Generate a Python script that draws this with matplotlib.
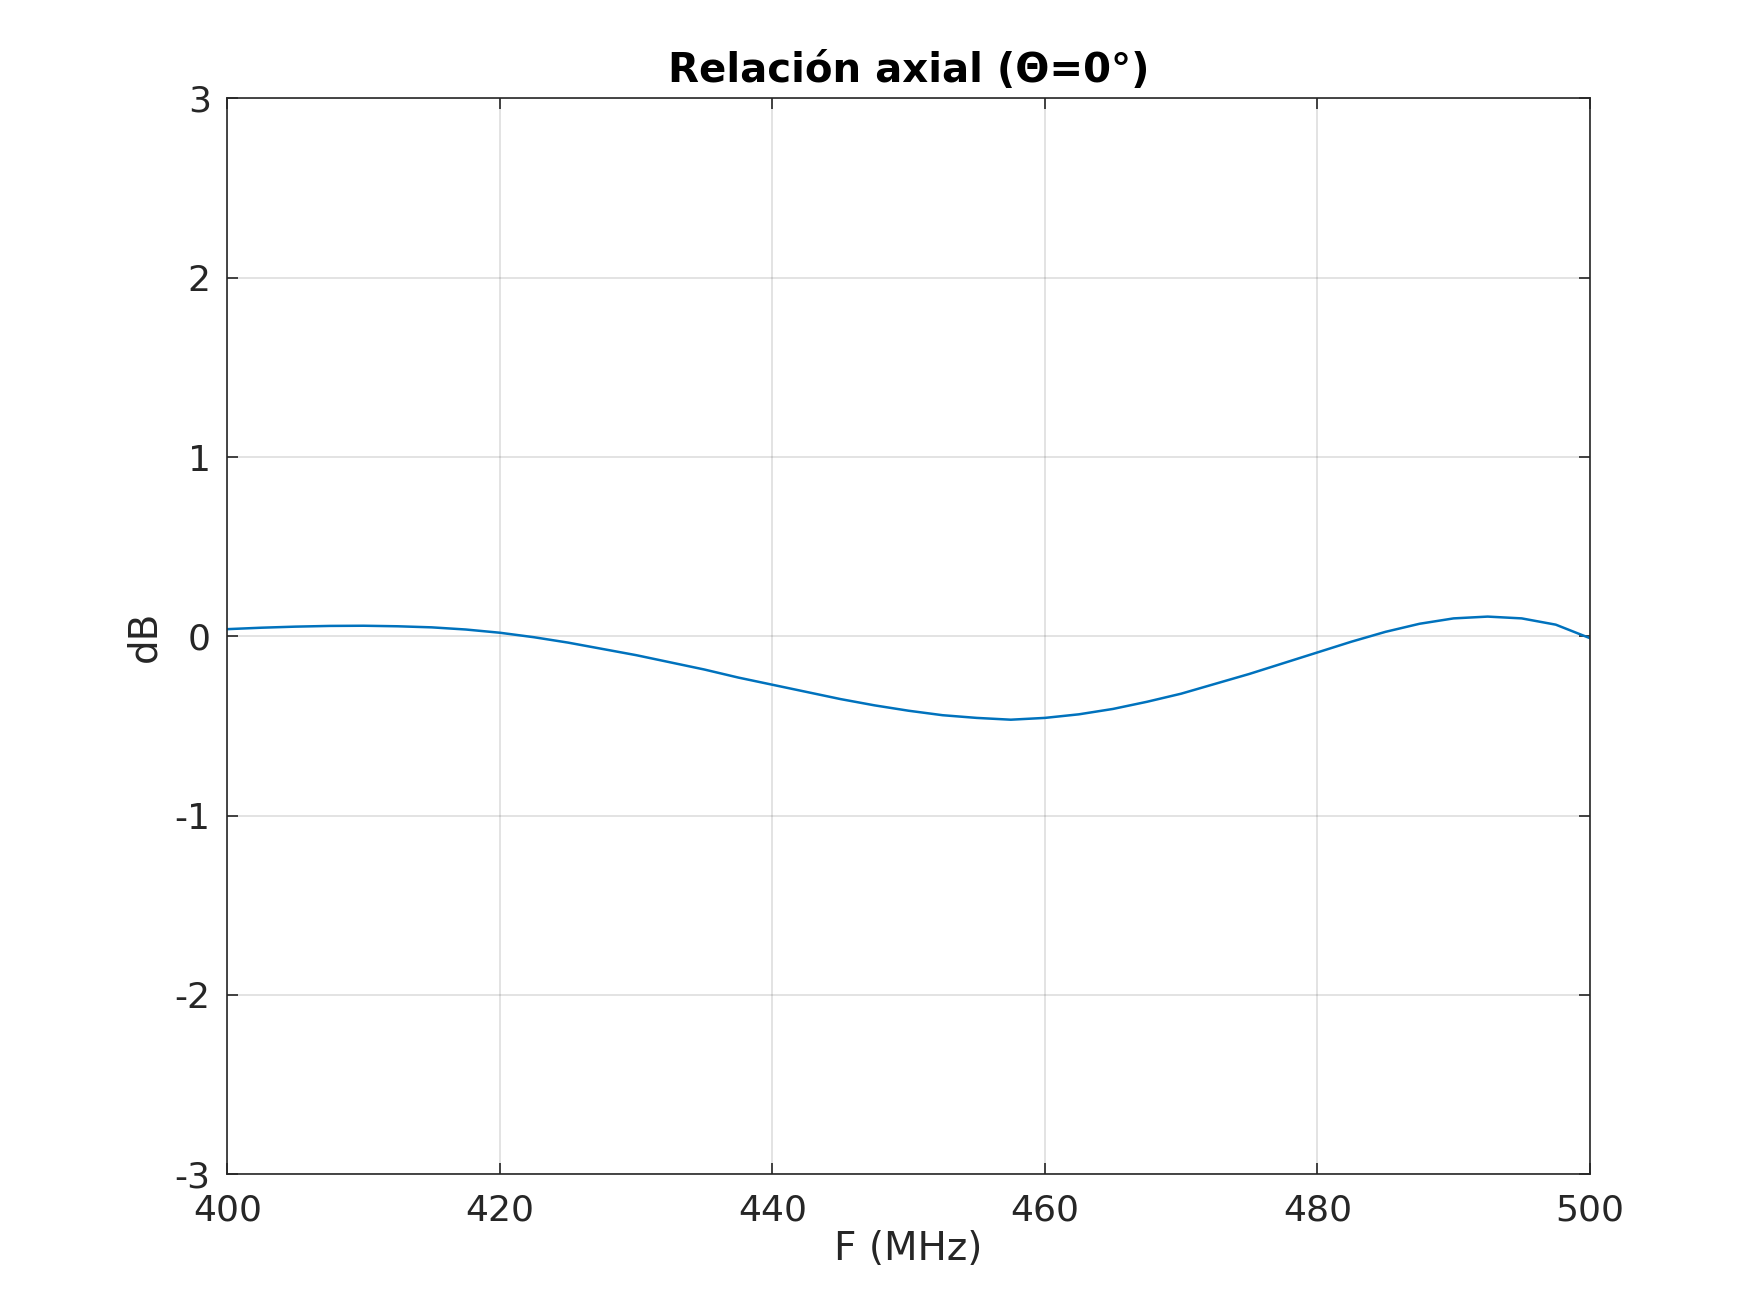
import matplotlib
matplotlib.use('Agg')
import matplotlib.pyplot as plt

# frequency (MHz) and axial ratio (dB)
freq = [400, 402.5, 405, 407.5, 410, 412.5, 415, 417.5, 420, 422.5, 425, 427.5,
        430, 432.5, 435, 437.5, 440, 442.5, 445, 447.5, 450, 452.5, 455, 457.5,
        460, 462.5, 465, 467.5, 470, 472.5, 475, 477.5, 480, 482.5, 485, 487.5,
        490, 492.5, 495, 497.5, 500]
ar_db = [0.04, 0.048, 0.054, 0.058, 0.059, 0.056, 0.05, 0.038, 0.02, -0.005,
         -0.035, -0.07, -0.105, -0.145, -0.185, -0.23, -0.27, -0.31, -0.35,
         -0.385, -0.415, -0.44, -0.455, -0.465, -0.455, -0.435, -0.405, -0.365,
         -0.32, -0.265, -0.21, -0.15, -0.09, -0.03, 0.025, 0.07, 0.1, 0.11,
         0.1, 0.065, -0.01]

txt = '#262626'
fig = plt.figure(figsize=(8.745, 6.56), dpi=200)
ax = fig.add_axes([0.13, 0.105, 0.779, 0.82])
ax.plot(freq, ar_db, color='#0072BD', linewidth=0.9)
ax.set_xlim(400, 500)
ax.set_ylim(-3, 3)
ax.set_xticks(range(400, 501, 20))
ax.set_yticks(range(-3, 4))
ax.set_yticklabels([str(v) for v in range(-3, 4)])
ax.grid(True, color='#262626', alpha=0.15, linewidth=0.6)
ax.tick_params(direction='in', top=True, right=True, labelsize=13,
               colors=txt, length=4, width=0.6)
ax.tick_params(axis='x', pad=7)
ax.tick_params(axis='y', pad=6)
for s in ax.spines.values():
    s.set_color(txt)
    s.set_linewidth(0.6)
ax.set_xlabel('F (MHz)', fontsize=14, color=txt, labelpad=1)
ax.set_ylabel('dB', fontsize=14, color=txt, labelpad=4)
ax.set_title('Relación axial (Θ=0°)', fontsize=14.5, fontweight='bold', pad=6)
fig.savefig('out.png', dpi=200)
